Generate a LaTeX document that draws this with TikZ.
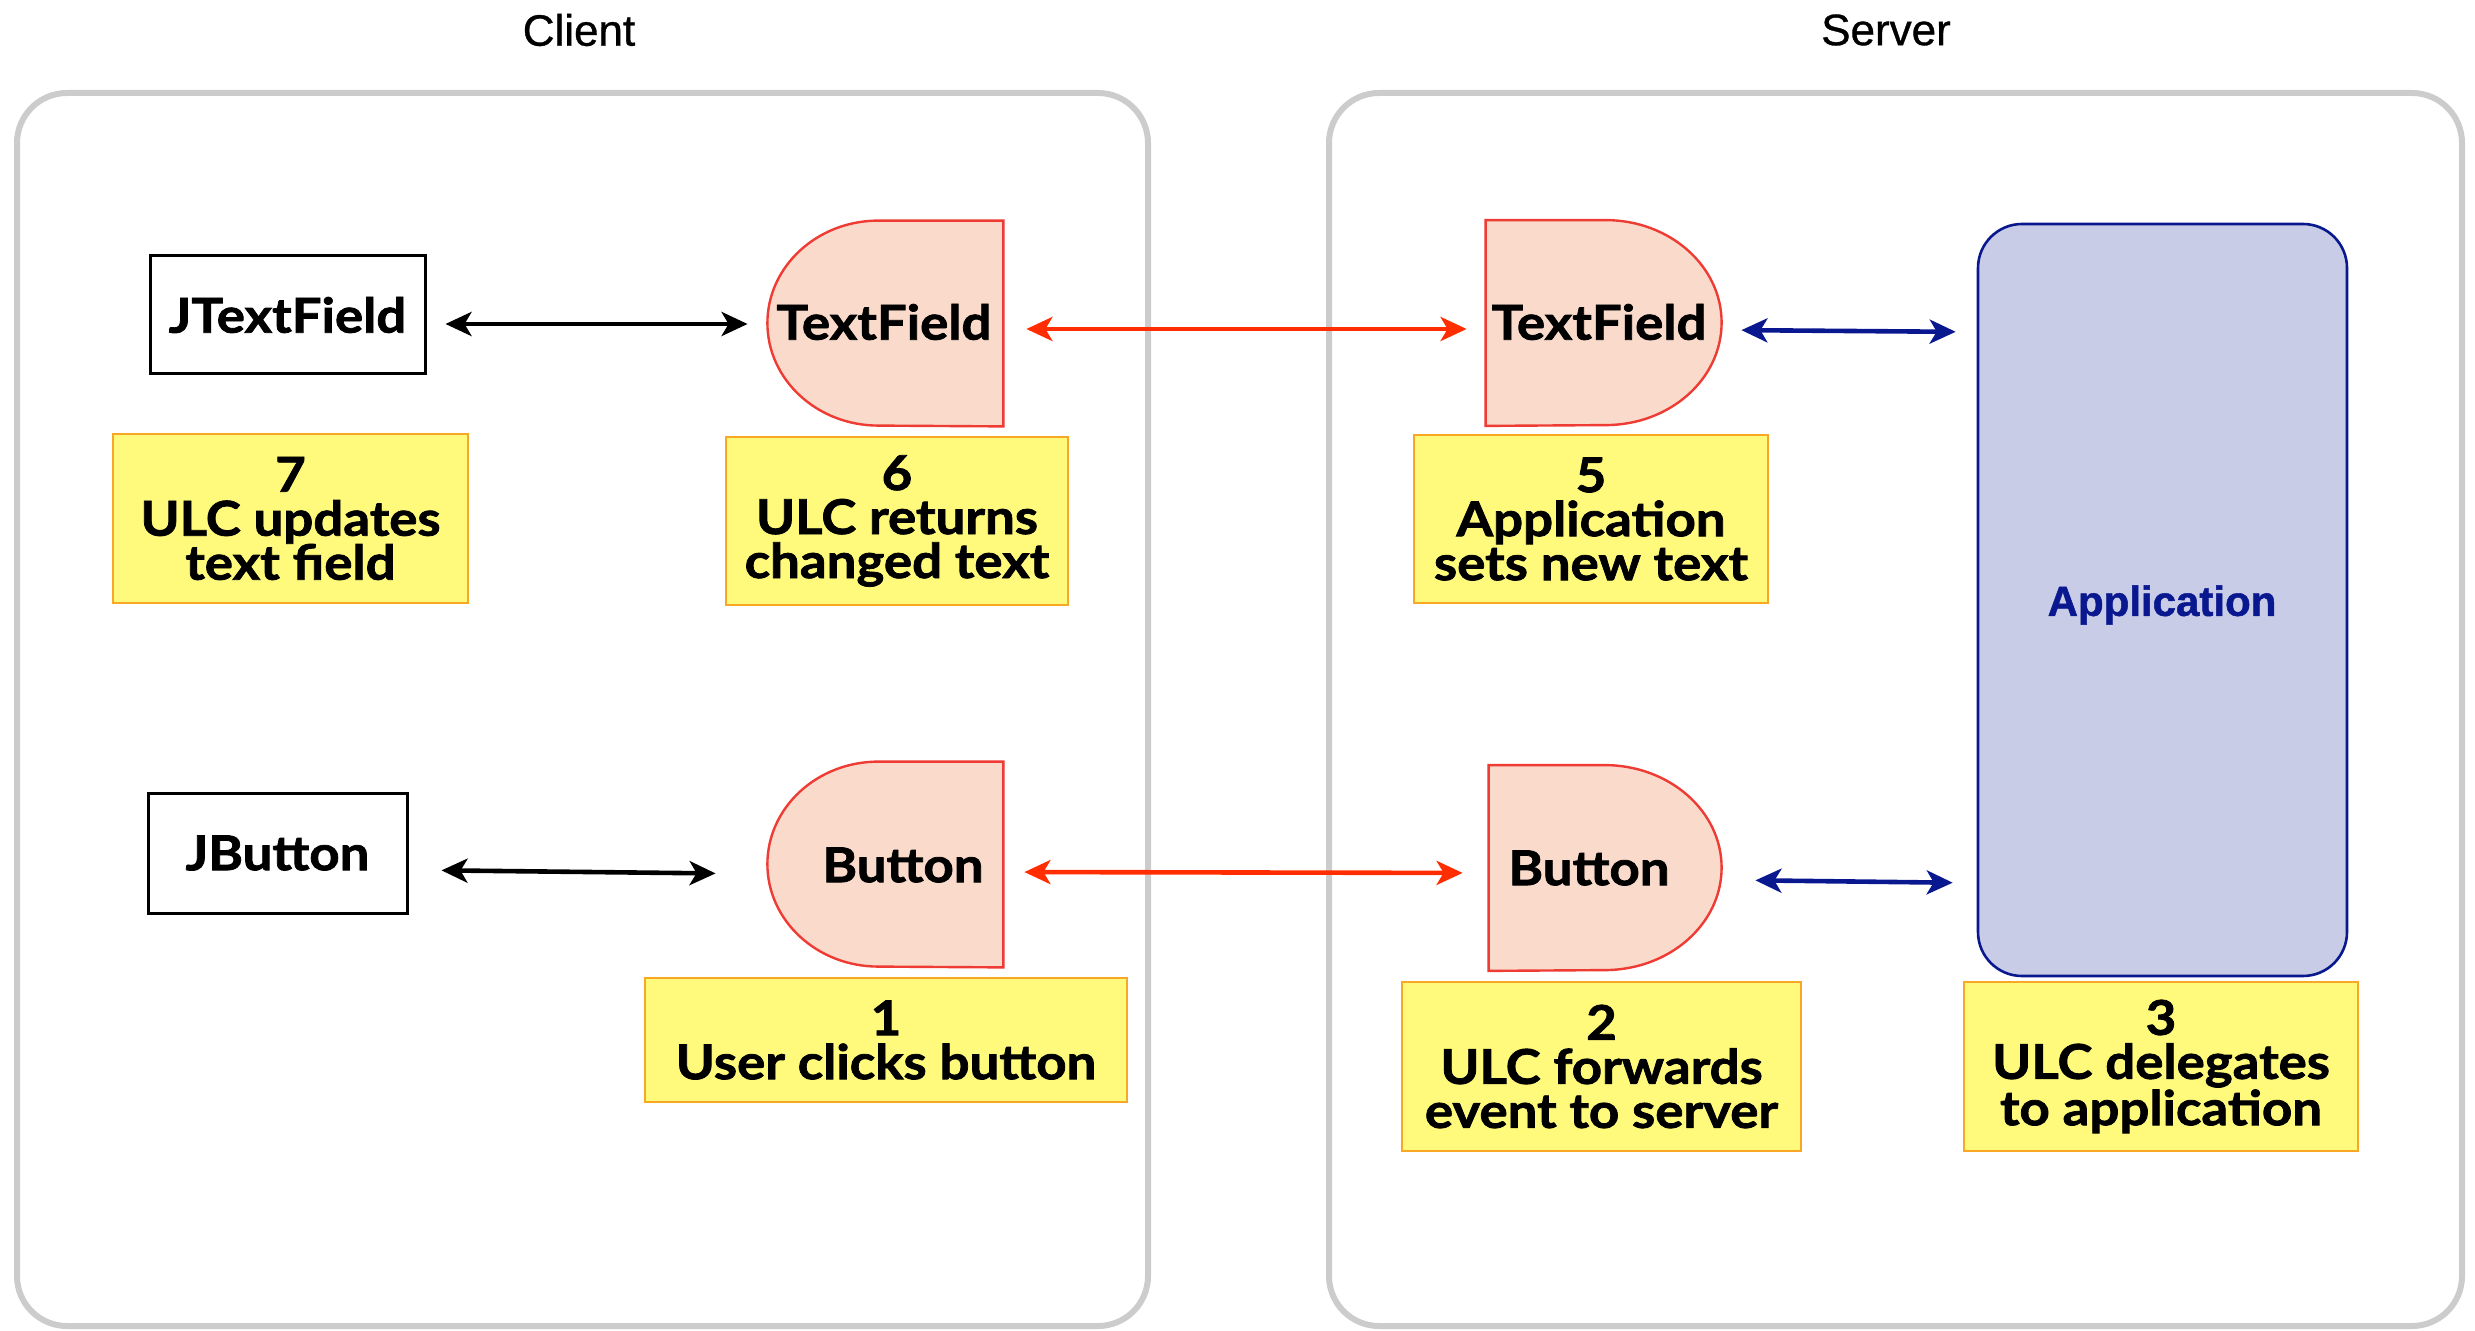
\documentclass[tikz,border=0pt]{standalone}
\usepackage{fontspec}
\setmainfont{Lato}[BoldFeatures={FakeBold=1.6,FakeStretch=1.1}]
\newfontfamily\titlefont{Liberation Sans}[FakeBold=0.8]
\newfontfamily\appfont{Liberation Sans}[BoldFeatures={FakeBold=1.2}]
\usetikzlibrary{arrows.meta,calc}
\definecolor{boxgray}{HTML}{CCCCCC}
\definecolor{ulcpeach}{HTML}{FADBCB}
\definecolor{ulcred}{HTML}{EE3B33}
\definecolor{noteyellow}{HTML}{FFFA7C}
\definecolor{noteorange}{HTML}{F9A825}
\definecolor{appfill}{HTML}{C8CCE6}
\definecolor{appnavy}{HTML}{0A1890}
\definecolor{arrred}{HTML}{FF2D00}
\begin{document}
\begin{tikzpicture}[x=0.5pt,y=-0.5pt,
  container/.style={draw=boxgray,line width=3pt,rounded corners=25pt},
  titletext/.style={font=\titlefont\fontsize{22}{24}\selectfont,inner sep=0pt},
  mainfont/.style={font=\bfseries\fontsize{24}{22}\selectfont},
  legacy/.style={draw=black,line width=1.5pt,inner sep=0pt,mainfont},
  ulcbox/.style={inner sep=0pt,minimum width=118pt,minimum height=102.5pt},
  ulcshape/.style={draw=ulcred,fill=ulcpeach,line width=1.2pt},
  ulctext/.style={inner sep=0pt,mainfont},
  note/.style={draw=noteorange,fill=noteyellow,line width=1pt,align=center,inner sep=0pt,mainfont},
  app/.style={draw=appnavy,fill=appfill,line width=1.3pt,rounded corners=22pt,
    minimum width=184.5pt,minimum height=376pt,inner sep=0pt},
  bothway/.style={{Stealth[length=13pt,width=12pt,inset=3.5pt]}-{Stealth[length=13pt,width=12pt,inset=3.5pt]},line width=2.3pt}
]
\useasboundingbox (0,0) rectangle (2475,1331);

% containers
\draw[container] (17,93) rectangle (1148,1326);
\draw[container] (1329,93) rectangle (2462,1326);
\node[titletext] (client) at (579,30) {Client};
\node[titletext] (server) at (1886,30) {Server};

% legacy widgets
\node[legacy,minimum width=137.5pt,minimum height=59pt] (jtf) at (287.5,315) {JTextField};
\node[legacy,minimum width=129.5pt,minimum height=60pt] (jb) at (277.5,853) {JButton};

% ULC client half objects (rounded left)
\node[ulcbox] (ctf) at (885,323.5) {};
\draw[ulcshape] (ctf.north east) -- ++(-125,0)
  arc[start angle=90,end angle=270,x radius=55.5pt,y radius=51.25pt] -- (ctf.south east) -- cycle;
\node[ulctext] (ctftext) at (884,322) {TextField};

\node[ulcbox] (cb) at (885,864.5) {};
\draw[ulcshape] (cb.north east) -- ++(-125,0)
  arc[start angle=90,end angle=270,x radius=55.5pt,y radius=51.25pt] -- (cb.south east) -- cycle;
\node[ulctext] (cbtext) at (903,865) {Button};

% ULC server half objects (rounded right)
\node[ulcbox] (stf) at (1604,323) {};
\draw[ulcshape] (stf.south west) -- (stf.north west) -- ++(120,0)
  arc[start angle=90,end angle=-90,x radius=58pt,y radius=51.25pt] -- cycle;
\node[ulctext] (stftext) at (1599,322) {TextField};

\node[ulcbox] (sb) at (1607,868) {};
\draw[ulcshape] (sb.south west) -- (sb.north west) -- ++(116,0)
  arc[start angle=90,end angle=-90,x radius=58.5pt,y radius=51.25pt] -- cycle;
\node[ulctext] (sbtext) at (1589,868) {Button};

% application
\node[app] (app) at (2162.5,600) {};
\node[inner sep=0pt,text=appnavy,font=\appfont\bfseries\fontsize{21}{24}\selectfont] (apptext) at (2162,605) {Application};

% notes
\node[note,minimum width=177.5pt,minimum height=84.5pt] (n7) at (290.5,518.5) {7\\ULC updates\\text field};
\node[note,minimum width=171pt,minimum height=84pt] (n6) at (897,521) {6\\ULC returns\\changed text};
\node[note,minimum width=177pt,minimum height=84pt] (n5) at (1591,519) {5\\Application\\sets new text};
\node[note,minimum width=241pt,minimum height=62pt] (n1) at (886,1040) {1\\User clicks button};
\node[note,minimum width=199.5pt,minimum height=84.5pt] (n2) at (1601.5,1066.5) {2\\ULC forwards\\event to server};
\node[note,minimum width=197pt,minimum height=84.5pt] (n3) at (2161,1066.5) {3\\ULC delegates\\to application};

% connectors
\draw[bothway,black,shorten <=9.5pt,shorten >=9.5pt] ([yshift=-4.5pt]jtf.east) -- ([yshift=-0.25pt]ctf.west);
\draw[bothway,black,shorten <=16.5pt,shorten >=25.5pt] ([yshift=-8.5pt]jb.east) -- ([yshift=-4.75pt]cb.west);
\draw[bothway,arrred,shorten <=11.5pt,shorten >=9.5pt] ([yshift=-2.75pt]ctf.east) -- ([yshift=-3pt]stf.west);
\draw[bothway,arrred,shorten <=10.5pt,shorten >=13pt] ([yshift=-3.75pt]cb.east) -- ([yshift=-2.5pt]sb.west);
\draw[bothway,appnavy,shorten <=9.5pt,shorten >=10.5pt] ([yshift=-3.5pt]stf.east) -- ([yshift=134pt]app.west);
\draw[bothway,appnavy,shorten <=15pt,shorten >=12pt] ([yshift=-6pt]sb.east) -- ([yshift=-141.5pt]app.west);
\end{tikzpicture}
\end{document}
